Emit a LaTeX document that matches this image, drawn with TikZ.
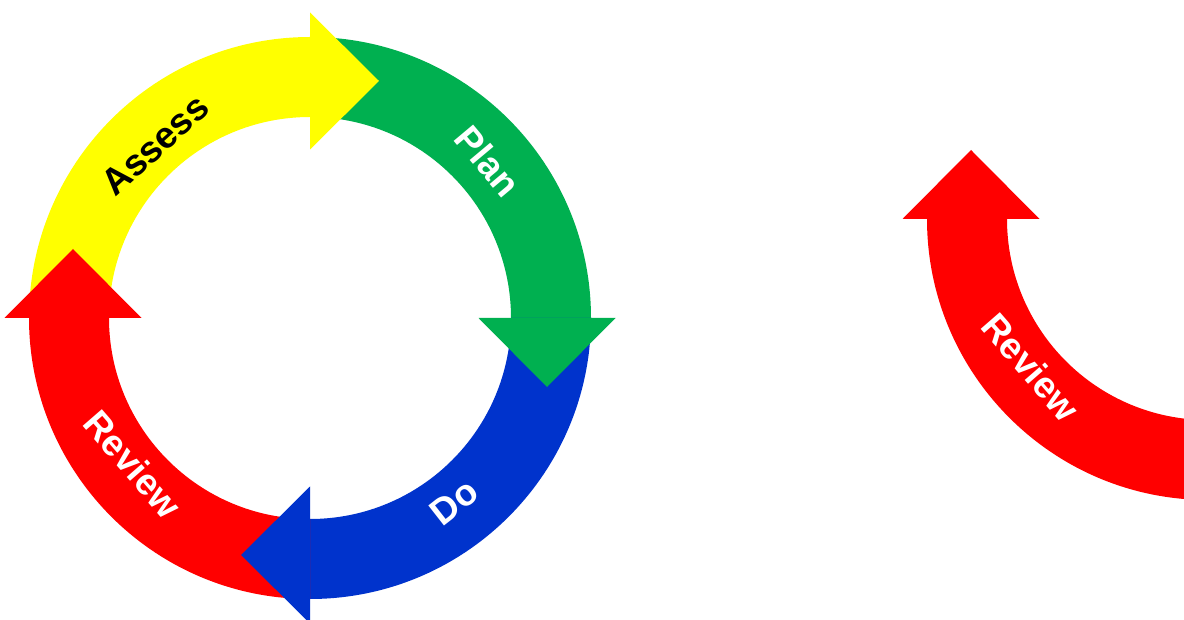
\documentclass[tikz,border=0pt]{standalone}
\usepackage{fontspec}
\setmainfont{Liberation Sans}
\definecolor{cyYellow}{HTML}{FFFF00}
\definecolor{cyGreen}{HTML}{00B050}
\definecolor{cyBlue}{HTML}{0033CC}
\definecolor{cyRed}{HTML}{FF0000}
\newcommand\cyband[2]{%
  \fill[#1, rotate=#2] (180:281) arc[start angle=180, end angle=90, radius=281]
    -- (90:201) arc[start angle=90, end angle=180, radius=201] -- cycle;}
\newcommand\cyhead[2]{%
  \fill[#1, rotate=#2] (0,305.5) -- (69,237) -- (0,168.5) -- cycle;}
\begin{document}
\begin{tikzpicture}[x=1pt, y=1pt,
  lbl/.style={font=\fontsize{37}{37}\selectfont\bfseries, inner sep=0pt, text=white}]
\useasboundingbox (0,0) rectangle (1184,619);
\clip (0,0) rectangle (1184,619);
\fill[white] (0,0) rectangle (1184,619);
% left cycle
\begin{scope}[shift={(310,301)}]
  \cyband{cyYellow}{0}
  \cyband{cyGreen}{-90}
  \cyband{cyBlue}{-180}
  \cyband{cyRed}{-270}
  \cyhead{cyYellow}{0}
  \cyhead{cyGreen}{-90}
  \cyhead{cyBlue}{-180}
  \cyhead{cyRed}{-270}
  \node[lbl, text=black, rotate=42] (assess) at (-155,173) {Assess};
  \node[lbl, rotate=-50] (plan) at (178,157) {Plan};
  \node[lbl, rotate=38] (do) at (144,-184) {Do};
  \node[lbl, rotate=-49] (review) at (-177,-146) {Review};
\end{scope}
% right partial arrow
\begin{scope}[shift={(1208,400)}]
  \cyband{cyRed}{-270}
  \cyhead{cyRed}{-270}
  \node[lbl, rotate=-49] (review2) at (-177,-148) {Review};
\end{scope}
\end{tikzpicture}
\end{document}
